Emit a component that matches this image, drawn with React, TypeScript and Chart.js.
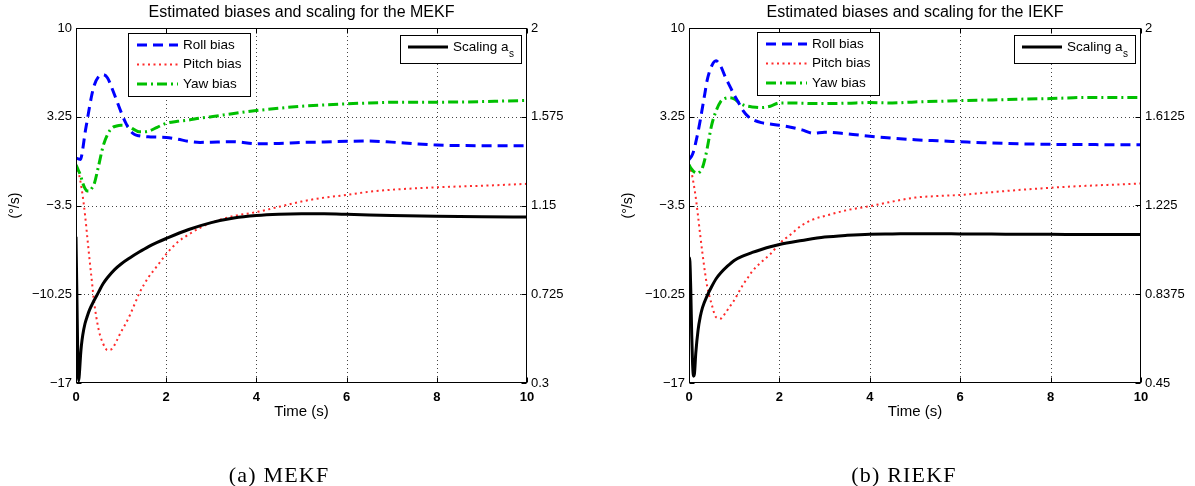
import React, { useEffect, useRef } from "react";
import { Chart, registerables } from "chart.js";

Chart.register(...registerables);

// ---------------- data ----------------
const TIME_BIAS = [0, 0.05, 0.1, 0.15, 0.2, 0.25, 0.3, 0.35, 0.4, 0.5, 0.6, 0.7, 0.8, 0.9, 1.0, 1.1, 1.2, 1.3, 1.4, 1.6, 1.8, 2.0, 2.25, 2.5, 2.75, 3.0, 3.5, 4.0, 4.5, 5.0, 5.5, 6.0, 6.5, 7.0, 7.5, 8.0, 8.5, 9.0, 9.5, 10];

const MEKF_ROLL = [0.1, 0.05, 0.0, 0.8, 2.0, 3.0, 4.0, 4.9, 5.6, 6.3, 6.45, 6.2, 5.4, 4.5, 3.6, 2.8, 2.2, 1.9, 1.8, 1.72, 1.7, 1.68, 1.55, 1.38, 1.3, 1.32, 1.35, 1.2, 1.22, 1.3, 1.33, 1.38, 1.4, 1.32, 1.2, 1.1, 1.06, 1.05, 1.05, 1.05];
const MEKF_PITCH = [-0.4, -0.9, -1.7, -2.8, -4.2, -5.9, -7.6, -9.2, -10.8, -12.9, -14.0, -14.5, -14.4, -13.8, -13.1, -12.5, -11.8, -11.0, -10.2, -9.0, -8.1, -7.2, -6.3, -5.7, -5.2, -4.8, -4.3, -4.0, -3.6, -3.2, -2.9, -2.7, -2.45, -2.3, -2.2, -2.12, -2.05, -2.0, -1.93, -1.85];
const MEKF_YAW = [-0.4, -0.8, -1.2, -1.8, -2.2, -2.4, -2.4, -2.2, -1.9, -0.5, 1.0, 1.9, 2.4, 2.55, 2.6, 2.58, 2.45, 2.25, 2.1, 2.15, 2.45, 2.75, 2.9, 3.0, 3.15, 3.25, 3.5, 3.72, 3.9, 4.05, 4.15, 4.23, 4.3, 4.35, 4.36, 4.36, 4.37, 4.4, 4.45, 4.49];

const IEKF_ROLL = [0.0, 0.2, 0.6, 1.3, 2.1, 3.0, 4.0, 5.0, 6.0, 7.1, 7.5, 7.1, 6.3, 5.6, 4.9, 4.3, 3.7, 3.3, 3.05, 2.8, 2.7, 2.6, 2.45, 2.25, 2.0, 2.08, 1.95, 1.77, 1.62, 1.5, 1.42, 1.35, 1.28, 1.22, 1.18, 1.15, 1.14, 1.13, 1.12, 1.12];
const IEKF_PITCH = [-0.4, -0.9, -1.8, -2.9, -4.3, -5.8, -7.2, -8.5, -9.6, -11.0, -12.0, -12.1, -11.7, -11.2, -10.7, -10.1, -9.5, -9.0, -8.5, -7.8, -7.2, -6.4, -5.7, -5.0, -4.55, -4.3, -3.85, -3.55, -3.2, -2.9, -2.78, -2.7, -2.55, -2.4, -2.27, -2.15, -2.05, -1.97, -1.9, -1.83];
const IEKF_YAW = [-0.4, -0.7, -0.9, -1.0, -1.05, -0.9, -0.6, 0.0, 0.8, 2.6, 3.7, 4.4, 4.65, 4.7, 4.6, 4.35, 4.15, 4.05, 4.0, 3.95, 4.05, 4.3, 4.3, 4.28, 4.25, 4.25, 4.28, 4.33, 4.3, 4.38, 4.42, 4.48, 4.52, 4.55, 4.6, 4.63, 4.7, 4.72, 4.72, 4.72];

const TIME_SCALE = [0, 0.02, 0.04, 0.06, 0.08, 0.1, 0.12, 0.15, 0.2, 0.25, 0.3, 0.4, 0.5, 0.6, 0.7, 0.85, 1.0, 1.2, 1.4, 1.6, 1.8, 2.0, 2.5, 3.0, 3.5, 4.0, 4.5, 5.0, 5.5, 6.0, 7.0, 8.0, 9.0, 10];
const MEKF_SCALING = [1.0, 0.72, 0.42, 0.31, 0.36, 0.43, 0.48, 0.53, 0.585, 0.62, 0.65, 0.695, 0.735, 0.775, 0.805, 0.842, 0.87, 0.9, 0.927, 0.952, 0.973, 0.992, 1.035, 1.068, 1.09, 1.102, 1.108, 1.11, 1.11, 1.108, 1.102, 1.098, 1.096, 1.095];
const IEKF_SCALING = [1.0, 0.98, 0.85, 0.66, 0.53, 0.48, 0.49, 0.58, 0.68, 0.74, 0.78, 0.83, 0.87, 0.905, 0.93, 0.96, 0.985, 1.005, 1.02, 1.033, 1.045, 1.055, 1.072, 1.087, 1.095, 1.1, 1.101, 1.102, 1.102, 1.101, 1.1, 1.099, 1.098, 1.098];

const X_TICKS = [0, 2, 4, 6, 8, 10];
const LEFT_TICKS = [-17, -10.25, -3.5, 3.25, 10];
const LEFT_TICK_LABELS = ["\u221217", "\u221210.25", "\u22123.5", "3.25", "10"];
const MEKF_RIGHT_TICKS = [0.3, 0.725, 1.15, 1.575, 2];
const MEKF_RIGHT_LABELS = ["0.3", "0.725", "1.15", "1.575", "2"];
const IEKF_RIGHT_TICKS = [0.45, 0.8375, 1.225, 1.6125, 2];
const IEKF_RIGHT_LABELS = ["0.45", "0.8375", "1.225", "1.6125", "2"];

const BIAS_LABELS = ["Roll bias", "Pitch bias", "Yaw bias"];
const SCALING_LABEL = "Scaling a";
const SCALING_SUB = "s";
const TITLES = ["Estimated biases and scaling for the MEKF", "Estimated biases and scaling for the IEKF"];
const CAPTIONS = ["(a) MEKF", "(b) RIEKF"];
const X_LABEL = "Time (s)";
const Y_LABEL = "(\u00b0/s)";

// ---------------- styles / layout ----------------
const SANS = '"Liberation Sans", Arial, Helvetica, sans-serif';
const SERIF = '"Liberation Serif", "Times New Roman", serif';
const H = 486;
const TOP = 28;
const PLOT_H = 355;

const STYLE = {
  roll: { color: "#0000ff", dash: [10, 6], width: 3 },
  pitch: { color: "#ff2a2a", dash: [2, 3.5], width: 2 },
  yaw: { color: "#00c000", dash: [10, 4, 2, 4], width: 3 },
  scaling: { color: "#000000", dash: [], width: 3 },
};

type Spec = {
  key: string;
  roll: number[];
  pitch: number[];
  yaw: number[];
  scaling: number[];
  rightTicks: number[];
  rightLabels: string[];
  title: string;
  caption: string;
  canvasW: number;
  areaLeft: number;
  areaRight: number;
  biasLegendX: number;
  biasLegendY: number;
  captionX: number;
};

function pts(t: number[], v: number[]) {
  return t.map((x, i) => ({ x, y: v[i] }));
}

function lineStyle(s: { color: string; dash: number[]; width: number }) {
  return {
    borderColor: s.color,
    backgroundColor: s.color,
    borderDash: s.dash,
    borderWidth: s.width,
    pointRadius: 0,
    fill: false,
    cubicInterpolationMode: "monotone" as const,
    borderJoinStyle: "round" as const,
  };
}

function makePlugin(spec: Spec) {
  return {
    id: "frame" + spec.key,
    beforeDatasetsDraw(chart: any) {
      const { ctx, chartArea: a, scales } = chart;
      ctx.save();
      ctx.strokeStyle = "#444";
      ctx.lineWidth = 1;
      ctx.setLineDash([1, 3]);
      X_TICKS.slice(1, -1).forEach((v) => {
        const px = Math.round(scales.x.getPixelForValue(v)) + 0.5;
        ctx.beginPath();
        ctx.moveTo(px, a.top);
        ctx.lineTo(px, a.bottom);
        ctx.stroke();
      });
      LEFT_TICKS.slice(1, -1).forEach((v) => {
        const py = Math.round(scales.y.getPixelForValue(v)) + 0.5;
        ctx.beginPath();
        ctx.moveTo(a.left, py);
        ctx.lineTo(a.right, py);
        ctx.stroke();
      });
      ctx.restore();
    },
    afterDatasetsDraw(chart: any) {
      const { ctx, chartArea: a, scales } = chart;
      ctx.save();
      ctx.setLineDash([]);
      ctx.strokeStyle = "#000";
      ctx.lineWidth = 1;
      const L = Math.round(a.left) + 0.5;
      const R = Math.round(a.right) - 0.5;
      const T = Math.round(a.top) + 0.5;
      const B = Math.round(a.bottom) - 0.5;
      ctx.strokeRect(L, T, R - L, B - T);
      const tl = 5;
      ctx.beginPath();
      X_TICKS.forEach((v) => {
        const px = Math.round(scales.x.getPixelForValue(v)) + 0.5;
        ctx.moveTo(px, B);
        ctx.lineTo(px, B - tl);
        ctx.moveTo(px, T);
        ctx.lineTo(px, T + tl);
      });
      LEFT_TICKS.forEach((v) => {
        const py = Math.round(scales.y.getPixelForValue(v)) + 0.5;
        ctx.moveTo(L, py);
        ctx.lineTo(L + tl, py);
      });
      spec.rightTicks.forEach((v) => {
        const py = Math.round(scales.y2.getPixelForValue(v)) + 0.5;
        ctx.moveTo(R, py);
        ctx.lineTo(R - tl, py);
      });
      ctx.stroke();

      // bias legend
      const bx = spec.biasLegendX;
      const by = spec.biasLegendY;
      const bw = 122;
      const bh = 63;
      ctx.fillStyle = "#fff";
      ctx.fillRect(bx, by, bw, bh);
      ctx.strokeStyle = "#000";
      ctx.lineWidth = 1;
      ctx.strokeRect(bx + 0.5, by + 0.5, bw, bh);
      const rows = [STYLE.roll, STYLE.pitch, STYLE.yaw];
      rows.forEach((s, i) => {
        const y = by + 12 + i * 19.5;
        ctx.strokeStyle = s.color;
        ctx.lineWidth = s.width;
        ctx.setLineDash(s.dash);
        ctx.beginPath();
        ctx.moveTo(bx + 9, y);
        ctx.lineTo(bx + 50, y);
        ctx.stroke();
        ctx.setLineDash([]);
        ctx.fillStyle = "#000";
        ctx.font = "13.5px " + SANS;
        ctx.textBaseline = "middle";
        ctx.textAlign = "left";
        ctx.fillText(BIAS_LABELS[i], bx + 55, y);
      });

      // scaling legend
      const sw = 121;
      const sh = 28;
      const sx = Math.round(a.right) - 6 - sw;
      const sy = 35;
      ctx.fillStyle = "#fff";
      ctx.fillRect(sx, sy, sw, sh);
      ctx.strokeStyle = "#000";
      ctx.lineWidth = 1;
      ctx.strokeRect(sx + 0.5, sy + 0.5, sw, sh);
      ctx.strokeStyle = STYLE.scaling.color;
      ctx.lineWidth = STYLE.scaling.width;
      ctx.beginPath();
      ctx.moveTo(sx + 8, sy + 12);
      ctx.lineTo(sx + 48, sy + 12);
      ctx.stroke();
      ctx.fillStyle = "#000";
      ctx.font = "13.5px " + SANS;
      ctx.textBaseline = "middle";
      ctx.fillText(SCALING_LABEL, sx + 53, sy + 12);
      const tw = ctx.measureText(SCALING_LABEL).width;
      ctx.font = "10px " + SANS;
      ctx.fillText(SCALING_SUB, sx + 53 + tw + 0.5, sy + 19);

      // texts
      const cx = (a.left + a.right) / 2;
      ctx.textAlign = "center";
      ctx.textBaseline = "middle";
      ctx.font = "16px " + SANS;
      ctx.fillText(spec.title, cx, 13);
      ctx.font = "15px " + SANS;
      ctx.fillText(X_LABEL, cx, 412);
      ctx.save();
      ctx.translate(a.left - 61, (a.top + a.bottom) / 2);
      ctx.rotate(-Math.PI / 2);
      ctx.font = "14px " + SANS;
      ctx.fillText(Y_LABEL, 0, 0);
      ctx.restore();
      ctx.font = "22px " + SERIF;
      ctx.textBaseline = "alphabetic";
      try {
        (ctx as any).letterSpacing = "1.2px";
      } catch (e) {}
      ctx.fillText(spec.caption, spec.captionX, 482);
      ctx.restore();
    },
  };
}

function makeConfig(spec: Spec): any {
  const tickFont = { family: SANS, size: 13 };
  return {
    type: "line",
    data: {
      datasets: [
        { label: SCALING_LABEL, data: pts(TIME_SCALE, spec.scaling), yAxisID: "y2", ...lineStyle(STYLE.scaling) },
        { label: BIAS_LABELS[0], data: pts(TIME_BIAS, spec.roll), yAxisID: "y", ...lineStyle(STYLE.roll) },
        { label: BIAS_LABELS[2], data: pts(TIME_BIAS, spec.yaw), yAxisID: "y", ...lineStyle(STYLE.yaw) },
        { label: BIAS_LABELS[1], data: pts(TIME_BIAS, spec.pitch), yAxisID: "y", ...lineStyle(STYLE.pitch) },
      ],
    },
    options: {
      responsive: false,
      animation: false,
      events: [],
      layout: { padding: { top: TOP, left: 0, right: 0, bottom: 0 } },
      plugins: { legend: { display: false }, tooltip: { enabled: false }, title: { display: false } },
      scales: {
        x: {
          type: "linear",
          position: "bottom",
          min: 0,
          max: 10,
          afterBuildTicks: (s: any) => {
            s.ticks = X_TICKS.map((v) => ({ value: v }));
          },
          afterFit: (s: any) => {
            s.height = H - TOP - PLOT_H;
          },
          grid: { display: false, drawTicks: false },
          border: { display: false },
          ticks: {
            padding: 7,
            color: "#000",
            maxRotation: 0,
            autoSkip: false,
            font: { ...tickFont, weight: "bold" },
            callback: (v: any) => String(v),
          },
        },
        y: {
          type: "linear",
          position: "left",
          min: LEFT_TICKS[0],
          max: LEFT_TICKS[LEFT_TICKS.length - 1],
          afterBuildTicks: (s: any) => {
            s.ticks = LEFT_TICKS.map((v) => ({ value: v }));
          },
          afterFit: (s: any) => {
            s.width = spec.areaLeft;
          },
          grid: { display: false, drawTicks: false },
          border: { display: false },
          ticks: {
            padding: 4,
            color: "#000",
            autoSkip: false,
            font: tickFont,
            callback: (_v: any, i: number) => LEFT_TICK_LABELS[i],
          },
        },
        y2: {
          type: "linear",
          position: "right",
          min: spec.rightTicks[0],
          max: spec.rightTicks[spec.rightTicks.length - 1],
          afterBuildTicks: (s: any) => {
            s.ticks = spec.rightTicks.map((v) => ({ value: v }));
          },
          afterFit: (s: any) => {
            s.width = spec.canvasW - spec.areaRight;
          },
          grid: { display: false, drawTicks: false },
          border: { display: false },
          ticks: {
            padding: 4,
            color: "#000",
            autoSkip: false,
            font: tickFont,
            callback: (_v: any, i: number) => spec.rightLabels[i],
          },
        },
      },
    },
    plugins: [makePlugin(spec)],
  };
}

const SPECS: Spec[] = [
  {
    key: "a",
    roll: MEKF_ROLL,
    pitch: MEKF_PITCH,
    yaw: MEKF_YAW,
    scaling: MEKF_SCALING,
    rightTicks: MEKF_RIGHT_TICKS,
    rightLabels: MEKF_RIGHT_LABELS,
    title: TITLES[0],
    caption: CAPTIONS[0],
    canvasW: 597,
    areaLeft: 76,
    areaRight: 527,
    biasLegendX: 128,
    biasLegendY: 33,
    captionX: 279,
  },
  {
    key: "b",
    roll: IEKF_ROLL,
    pitch: IEKF_PITCH,
    yaw: IEKF_YAW,
    scaling: IEKF_SCALING,
    rightTicks: IEKF_RIGHT_TICKS,
    rightLabels: IEKF_RIGHT_LABELS,
    title: TITLES[1],
    caption: CAPTIONS[1],
    canvasW: 598,
    areaLeft: 92,
    areaRight: 544,
    biasLegendX: 160,
    biasLegendY: 32,
    captionX: 307,
  },
];

function Panel({ spec, left }: { spec: Spec; left: number }) {
  const ref = useRef<HTMLCanvasElement | null>(null);
  useEffect(() => {
    if (!ref.current) return;
    const chart = new Chart(ref.current, makeConfig(spec));
    return () => chart.destroy();
  }, [spec]);
  return (
    <canvas
      ref={ref}
      width={spec.canvasW}
      height={H}
      style={{ position: "absolute", left, top: 0, width: spec.canvasW, height: H }}
    />
  );
}

export default function App() {
  return (
    <div style={{ position: "fixed", left: 0, top: 0, width: 1195, height: H, background: "#fff" }}>
      <Panel spec={SPECS[0]} left={0} />
      <Panel spec={SPECS[1]} left={597} />
    </div>
  );
}
